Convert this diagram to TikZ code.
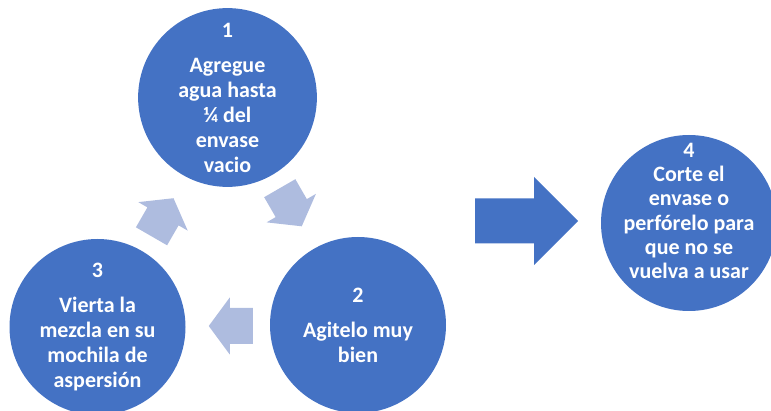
\documentclass[tikz,border=0pt]{standalone}
\usepackage{fontspec}
\setmainfont{Carlito}
\usetikzlibrary{calc}
\definecolor{stepblue}{HTML}{4472C4}
\definecolor{cycleblue}{HTML}{AEBCDF}
\tikzset{
	stepcircle/.style={circle, fill=stepblue, minimum size=176pt, inner sep=0pt},
	steptext/.style={align=center, text=white, font=\fontsize{22}{25}\selectfont\bfseries},
	cyclearrow/.pic={\fill[cycleblue] (-22,-18) -- (1,-18) -- (1,-28.5) -- (22,0)
		-- (1,28.5) -- (1,18) -- (-22,18) -- cycle;},
	bigarrow/.pic={\fill[stepblue] (-51.5,-22.5) -- (7.5,-22.5) -- (7.5,-44) -- (51.5,0)
		-- (7.5,44) -- (7.5,22.5) -- (-51.5,22.5) -- cycle;}
}
\begin{document}
\begin{tikzpicture}[x=1pt, y=-1pt]
	\useasboundingbox (0,0) rectangle (771,411);
	\clip (0,0) rectangle (771,411);
	\node[stepcircle, steptext] (s1) at (227.5,97.5) {1\\[10pt]Agregue\\agua hasta\\¼ del\\envase\\vacio};
	\node[stepcircle, steptext] (s2) at (358,325) {2\\[10pt]Agitelo muy\\bien};
	\node[stepcircle, steptext] (s3) at (97.5,327) {3\\[10pt]Vierta la\\mezcla en su\\mochila de\\aspersión};
	\node[stepcircle] (s4) at (689,223) {};
	\node[steptext, font=\fontsize{22}{24.3}\selectfont\bfseries] (t4) at ($(s4.center)+(0,-12)$)
		{4\\Corte el\\envase o\\perfórelo para\\que no se\\vuelva a usar};
	\coordinate (a12) at ($(s1)!0.5!(s2)+(-2,-4)$);
	\coordinate (a23) at ($(s2)!0.5!(s3)+(3,0)$);
	\coordinate (a31) at ($(s3)!0.5!(s1)+(0,5)$);
	\pic[rotate=-60] at (a12) {cyclearrow};
	\pic[rotate=180] at (a23) {cyclearrow};
	\pic[rotate=60] at (a31) {cyclearrow};
	\coordinate (go) at (526.5,221);
	\pic at (go) {bigarrow};
\end{tikzpicture}
\end{document}
